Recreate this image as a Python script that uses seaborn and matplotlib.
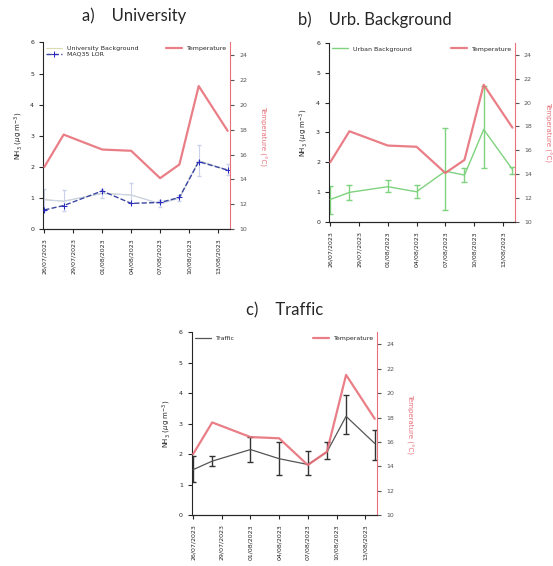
import pandas as pd
import seaborn as sns
import matplotlib.pyplot as plt
import matplotlib.dates as mdates

sns.set_style("ticks")
plt.rcParams['font.family'] = ['DejaVu Sans']

# sampling days
dates = ["2023-07-26", "2023-07-28", "2023-08-01", "2023-08-04",
         "2023-08-07", "2023-08-09", "2023-08-11", "2023-08-14"]
tick_dates = ["2023-07-26", "2023-07-29", "2023-08-01", "2023-08-04",
              "2023-08-07", "2023-08-10", "2023-08-13"]

temperature = [15.0, 17.6, 16.4, 16.3, 14.1, 15.2, 21.5, 17.9]

# a) University
univ_bg = [0.95, 0.90, 1.15, 1.10, 0.82, 1.00, 2.20, 1.90]
univ_bg_lo = [0.60, 0.60, 1.00, 0.85, 0.70, 0.90, 1.70, 1.75]
univ_bg_hi = [1.30, 1.25, 1.30, 1.50, 0.95, 1.10, 2.70, 2.10]
maq35 = [0.62, 0.76, 1.23, 0.83, 0.86, 1.02, 2.17, 1.90]

# b) Urban background
urban = [0.75, 0.99, 1.18, 1.01, 1.70, 1.57, 3.10, 1.76]
urban_lo = [0.25, 0.75, 1.00, 0.80, 0.40, 1.35, 1.80, 1.60]
urban_hi = [1.22, 1.25, 1.40, 1.25, 3.15, 1.80, 4.55, 1.85]

# c) Traffic
traffic = [1.49, 1.77, 2.15, 1.85, 1.66, 2.07, 3.24, 2.35]
traffic_lo = [1.07, 1.60, 1.75, 1.30, 1.30, 1.85, 2.65, 1.80]
traffic_hi = [1.95, 1.95, 2.55, 2.40, 2.10, 2.40, 3.95, 2.80]

x = pd.to_datetime(dates)
temp_color = "#e8707a"
fs = 4.5

fig = plt.figure(figsize=(5.53, 5.66), dpi=100)
ax_a = fig.add_axes([0.078, 0.595, 0.338, 0.330])
ax_b = fig.add_axes([0.595, 0.608, 0.336, 0.316])
ax_c = fig.add_axes([0.347, 0.090, 0.335, 0.323])


def err(vals, lo, hi):
    return [[v - l for v, l in zip(vals, lo)], [h - v for v, h in zip(vals, hi)]]


def setup(ax):
    ax.set_ylim(0, 6)
    ax.set_xlim(x[0] - pd.Timedelta(hours=3), x[-1] + pd.Timedelta(hours=6))
    ax.set_xticks(pd.to_datetime(tick_dates))
    ax.xaxis.set_major_formatter(mdates.DateFormatter("%d/%m/%Y"))
    ax.tick_params(axis="x", rotation=90, labelsize=fs, length=3)
    ax.tick_params(axis="y", labelsize=fs, length=3)
    ax.set_xlabel("")
    ax.set_ylabel(r"NH$_3$ ($\mu$g m$^{-3}$)", fontsize=fs + 0.5)
    for s in ["top", "right"]:
        ax.spines[s].set_visible(False)

    ax2 = ax.twinx()
    sns.lineplot(x=x, y=temperature, ax=ax2, color=temp_color, lw=1.6,
                 alpha=0.9, label="Temperature")
    ax2.set_ylim(10, 25)
    ax2.set_yticks(range(10, 25, 2))
    ax2.tick_params(axis="y", labelsize=fs, length=3, colors="#555555")
    ax2.spines["right"].set_color(temp_color)
    ax2.spines["top"].set_visible(False)
    ax2.spines["left"].set_visible(False)
    ax2.set_ylabel("Temperature (°C)", color=temp_color, fontsize=fs + 0.5,
                   rotation=270, labelpad=14)
    ax2.legend(loc="upper right", fontsize=fs, frameon=False,
               handlelength=2.5, borderaxespad=0.1)
    return ax2


# a) University
ax_a.errorbar(x, univ_bg, yerr=err(univ_bg, univ_bg_lo, univ_bg_hi),
              color="#c9d2ea", lw=0.8, capsize=1.5, elinewidth=0.8, zorder=1)
sns.lineplot(x=x, y=univ_bg, ax=ax_a, color="#d8dcb0", lw=0.8,
             label="University Background", zorder=1)
sns.lineplot(x=x, y=maq35, ax=ax_a, color="#3a46a0", lw=1.0, linestyle="--",
             marker="+", markersize=4, markeredgecolor="#2a2ac0",
             label="MAQ35 LOR", zorder=3)
ax_a.legend(loc="upper left", fontsize=fs, frameon=False, borderaxespad=0.1,
            handlelength=2.5, labelspacing=0.1)
setup(ax_a)

# b) Urban background
ax_b.errorbar(x, urban, yerr=err(urban, urban_lo, urban_hi), fmt="none",
              ecolor="#7fd27f", elinewidth=1.0, capsize=2.5, zorder=2)
sns.lineplot(x=x, y=urban, ax=ax_b, color="#7fd27f", lw=1.0,
             label="Urban Background", zorder=3)
ax_b.legend(loc="upper left", fontsize=fs, frameon=False, borderaxespad=0.1,
            handlelength=2.5)
setup(ax_b)

# c) Traffic
ax_c.errorbar(x, traffic, yerr=err(traffic, traffic_lo, traffic_hi), fmt="none",
              ecolor="#333333", elinewidth=1.0, capsize=2.5, zorder=2)
sns.lineplot(x=x, y=traffic, ax=ax_c, color="#555555", lw=0.9,
             label="Traffic", zorder=3)
ax_c.legend(loc="upper left", fontsize=fs, frameon=False, borderaxespad=0.1,
            handlelength=2.5)
setup(ax_c)

# panel titles
tfont = dict(fontsize=12, family="Lato", ha="center", va="center")
fig.text(0.242, 0.972, "a)    University", **tfont)
fig.text(0.678, 0.965, "b)    Urb. Background", **tfont)
fig.text(0.514, 0.452, "c)    Traffic", **tfont)

fig.savefig("out.png", dpi=100)
